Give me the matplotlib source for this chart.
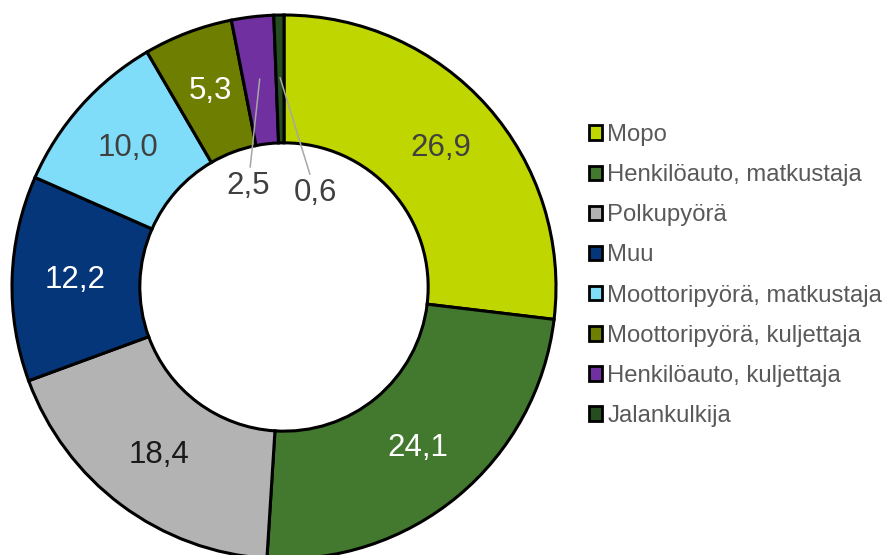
import matplotlib
matplotlib.use("Agg")
import matplotlib.pyplot as plt
import numpy as np
from matplotlib.patches import Patch

plt.rcParams['font.family'] = ['Liberation Sans', 'DejaVu Sans']

# Data
categories = ["Mopo", "Henkilöauto, matkustaja", "Polkupyörä", "Muu",
              "Moottoripyörä, matkustaja", "Moottoripyörä, kuljettaja",
              "Henkilöauto, kuljettaja", "Jalankulkija"]
values = [26.9, 24.1, 18.4, 12.2, 10.0, 5.3, 2.5, 0.6]
labels = ["26,9", "24,1", "18,4", "12,2", "10,0", "5,3", "2,5", "0,6"]

colors = ["#BFD600", "#43782F", "#B3B3B3", "#06367A",
          "#7FDDF9", "#6E7E00", "#7030A0", "#264D20"]
label_colors = ["#404040", "white", "#1A1A1A", "white",
                "#404040", "white", "#404040", "#404040"]

fig = plt.figure(figsize=(8.87, 5.55), dpi=100)
ax = fig.add_axes([12 / 887, -4 / 555, 544 / 887, 544 / 555])

wedges, _ = ax.pie(values, colors=colors, startangle=90, counterclock=False,
                   radius=1, wedgeprops=dict(width=0.47, edgecolor="black", linewidth=2.2))
ax.set_xlim(-1, 1)
ax.set_ylim(-1, 1)
ax.set_aspect("equal")
ax.axis("off")

# Labels in the ring
r_lab = 0.77
outside = {6: (-0.132, 0.37), 7: (0.117, 0.344)}
for i, w in enumerate(wedges):
    ang = np.deg2rad((w.theta1 + w.theta2) / 2)
    x, y = r_lab * np.cos(ang), r_lab * np.sin(ang)
    if i in outside:
        ax.annotate(labels[i], xy=(x, y), xytext=outside[i], ha="center", va="center",
                    fontsize=22.5, color=label_colors[i],
                    arrowprops=dict(arrowstyle="-", color="#A6A6A6", lw=1.1,
                                    shrinkA=1, shrinkB=0))
    else:
        ax.text(x, y, labels[i], ha="center", va="center", fontsize=22.5,
                color=label_colors[i])

# Legend
handles = [Patch(facecolor=c, edgecolor="black", linewidth=2) for c in colors]
fig.legend(handles, categories, loc="upper left", bbox_to_anchor=(589 / 887, 1 - 124 / 555),
           frameon=False, fontsize=17.2, labelcolor="#595959", borderpad=0, borderaxespad=0,
           handlelength=0.55, handleheight=0.55, handletextpad=0.22, labelspacing=0.76)

fig.savefig("out.png", dpi=100)
